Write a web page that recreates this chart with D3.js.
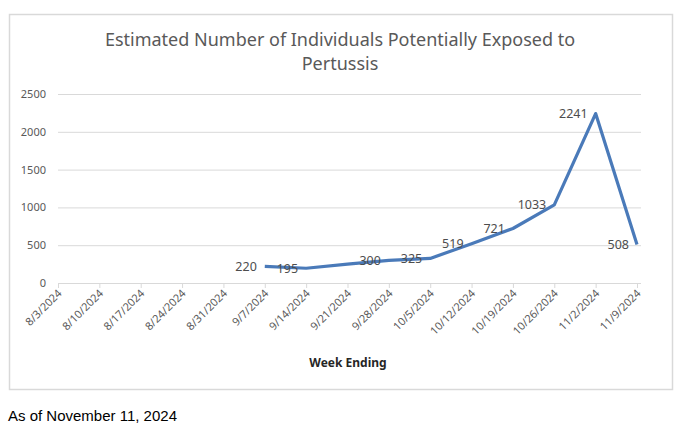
<!DOCTYPE html>
<html>
<head>
<meta charset="utf-8">
<script src="https://cdn.jsdelivr.net/npm/d3@7"></script>
<style>
  body { margin: 0; background: #fff; }
  svg text { font-family: "Noto Sans", "Open Sans", sans-serif; }
</style>
</head>
<body>
<script>
// data
const weeks = ["8/3/2024", "8/10/2024", "8/17/2024", "8/24/2024", "8/31/2024",
  "9/7/2024", "9/14/2024", "9/21/2024", "9/28/2024", "10/5/2024", "10/12/2024",
  "10/19/2024", "10/26/2024", "11/2/2024", "11/9/2024"];
const exposed = [null, null, null, null, null, 220, 195, 250, 300, 325, 519, 721, 1033, 2241, 508];
// 9/21 has no label on the original
const labels = [null, null, null, null, null, "220", "195", null, "300", "325", "519", "721", "1033", "2241", "508"];
const yTicks = [0, 500, 1000, 1500, 2000, 2500];

const w = 680;
const h = 431;

const svg = d3.select("body")
  .append("svg")
  .attr("width", w)
  .attr("height", h);

// chart frame
svg.append("rect")
  .attr("x", 9.5).attr("y", 14.5)
  .attr("width", 663).attr("height", 375)
  .attr("fill", "#fff")
  .attr("stroke", "#d9d9d9")
  .attr("stroke-width", 1.5);

const xScale = d3.scalePoint()
  .domain(weeks)
  .range([58, 637]);

const yScale = d3.scaleLinear()
  .domain([0, 2500])
  .range([283, 94]);

// title
const title = svg.append("text")
  .attr("text-anchor", "middle")
  .attr("fill", "#595959")
  .attr("font-size", 18);
title.append("tspan").attr("x", 340).attr("y", 46)
  .text("Estimated Number of Individuals Potentially Exposed to");
title.append("tspan").attr("x", 340).attr("y", 70)
  .text("Pertussis");

// gridlines + y labels
const yAxis = d3.axisLeft(yScale)
  .tickValues(yTicks)
  .tickFormat(d3.format("d"))
  .tickSize(-(641 - 58))
  .tickPadding(12);

const gy = svg.append("g")
  .attr("transform", "translate(58,0)")
  .call(yAxis);
gy.select(".domain").remove();
gy.selectAll(".tick line").attr("stroke", "#d9d9d9");
gy.selectAll(".tick text")
  .attr("fill", "#595959")
  .attr("font-size", 11)
  .style("font-family", '"Noto Sans", sans-serif');

// x axis
const xAxis = d3.axisBottom(xScale)
  .tickSize(5)
  .tickSizeOuter(0);

const gx = svg.append("g")
  .attr("transform", "translate(0,283)")
  .call(xAxis);
gx.select(".domain")
  .attr("d", "M58,0.5H641")
  .attr("stroke", "#d9d9d9");
gx.selectAll(".tick line").attr("stroke", "#d9d9d9");
gx.selectAll(".tick text")
  .attr("fill", "#595959")
  .attr("font-size", 11)
  .style("font-family", '"Noto Sans", sans-serif')
  .attr("text-anchor", "end")
  .attr("dy", null)
  .attr("y", 0)
  .attr("transform", "translate(4,11) rotate(-45)");

// axis title
svg.append("text")
  .attr("x", 348)
  .attr("y", 367)
  .attr("text-anchor", "middle")
  .attr("font-size", 12)
  .attr("font-weight", "bold")
  .attr("fill", "#262626")
  .text("Week Ending");

// line
const pts = weeks.map((d, i) => ({ week: d, value: exposed[i], label: labels[i] }))
  .filter(d => d.value !== null);

const line = d3.line()
  .x(d => xScale(d.week))
  .y(d => yScale(d.value));

svg.append("path")
  .datum(pts)
  .attr("fill", "none")
  .attr("stroke", "#4a7ab9")
  .attr("stroke-width", 3.2)
  .attr("stroke-linejoin", "round")
  .attr("d", line);

// data labels, placed left of each point
svg.selectAll(".lbl")
  .data(pts.filter(d => d.label !== null))
  .enter()
  .append("text")
  .attr("class", "lbl")
  .attr("x", d => xScale(d.week) - 8)
  .attr("y", d => yScale(d.value))
  .attr("dy", "0.35em")
  .attr("text-anchor", "end")
  .attr("font-size", 12.5)
  .attr("fill", "#4d4d4d")
  .text(d => d.label);

// footnote
svg.append("text")
  .attr("x", 8)
  .attr("y", 421)
  .attr("font-size", 15)
  .attr("fill", "#000")
  .style("font-family", '"Liberation Sans", Arial, sans-serif')
  .text("As of November 11, 2024");
</script>
</body>
</html>
